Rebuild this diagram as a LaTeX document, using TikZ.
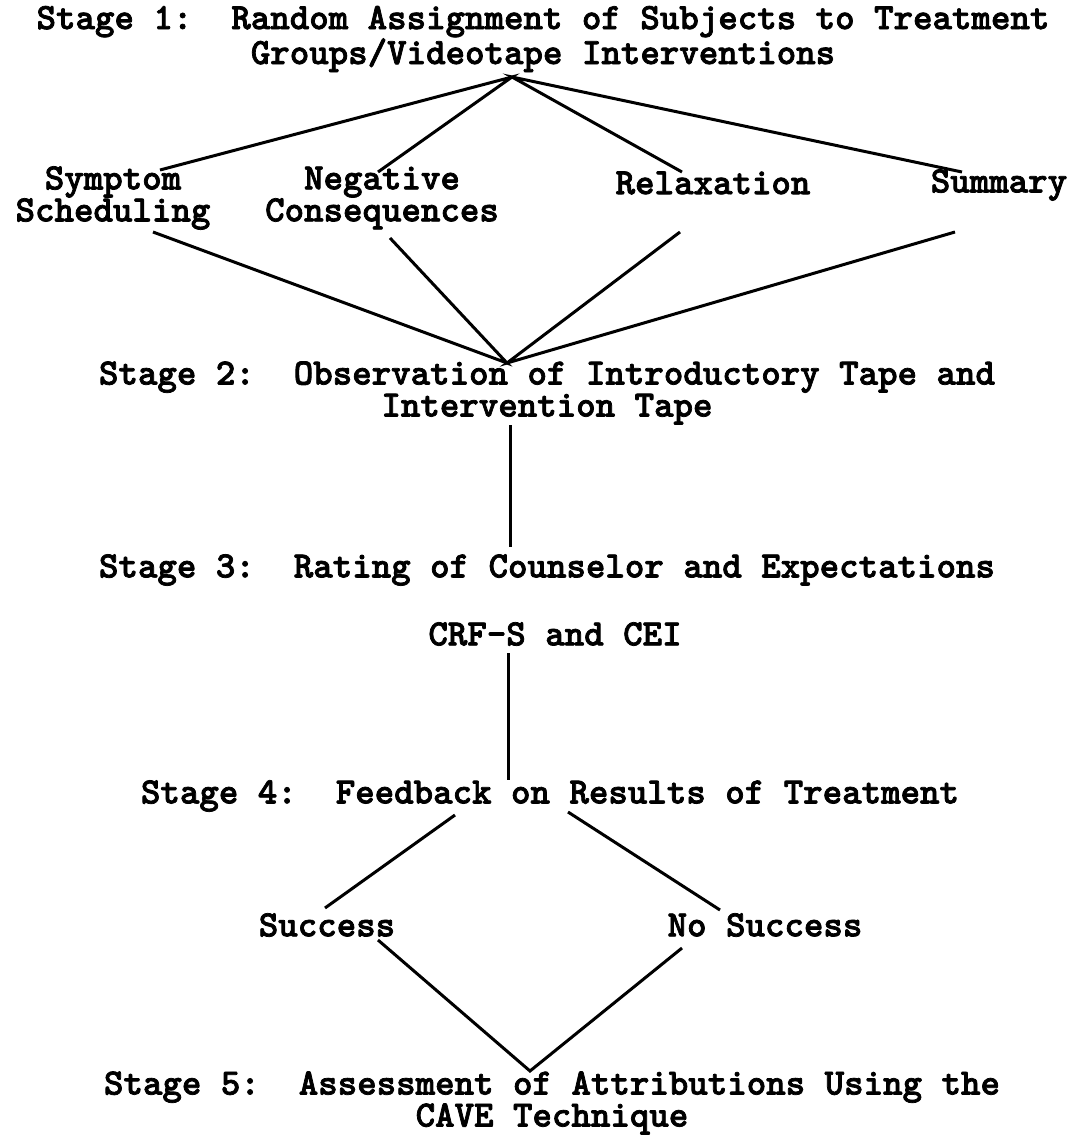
\documentclass[tikz,border=0pt]{standalone}
\usepackage{fontspec}
\newfontfamily\typew{lmmonolt10-bold.otf}[FakeBold=2]
\begin{document}
\begin{tikzpicture}[x=1pt,y=-1pt,
    lbl/.style={font=\typew\fontsize{37.1}{32}\selectfont\frenchspacing,
      align=center, inner sep=0pt},
    ln/.style={line width=3pt}]
  \useasboundingbox[fill=white] (0,0) rectangle (1075,1138);
  % stages and groups
  \node [lbl] (stage1) at (543,39) {Stage 1:\ \ Random Assignment of Subjects to Treatment\\Groups/Videotape Interventions};
  \node [lbl] (symp) at (113,198) {Symptom\\Scheduling};
  \node [lbl] (negc) at (382,198) {Negative\\Consequences};
  \node [lbl] (relax) at (713,183) {Relaxation};
  \node [lbl] (summ) at (999,185) {Summary};
  \node [lbl] (stage2) at (547,393) {Stage 2:\ \ Observation of Introductory Tape and\\Intervention Tape};
  \node [lbl] (stage3) at (547,570) {Stage 3:\ \ Rating of Counselor and Expectations};
  \node [lbl] (crf) at (555,634) {CRF-S and CEI};
  \node [lbl] (stage4) at (550,796) {Stage 4:\ \ Feedback on Results of Treatment};
  \node [lbl] (succ) at (327,925) {Success};
  \node [lbl] (nosucc) at (765,925) {No Success};
  \node [lbl] (stage5) at (552,1103) {Stage 5:\ \ Assessment of Attributions Using the\\CAVE Technique};
  % end points of the lines
  \coordinate (top1) at (512,77);
  \coordinate (symp-t) at (160,170);
  \coordinate (negc-t) at (378,172);
  \coordinate (relax-t) at (682,172);
  \coordinate (summ-t) at (962,172);
  \coordinate (symp-b) at (153,232);
  \coordinate (negc-b) at (390,238);
  \coordinate (relax-b) at (680,232);
  \coordinate (summ-b) at (955,232);
  \coordinate (top2) at (507,363);
  \coordinate (stage2-b) at (510,425);
  \coordinate (stage3-t) at (510,547);
  \coordinate (crf-b) at (508,653);
  \coordinate (stage4-t) at (508,780);
  \coordinate (stage4-l) at (455,815);
  \coordinate (stage4-r) at (568,812);
  \coordinate (succ-t) at (325,908);
  \coordinate (nosucc-t) at (720,910);
  \coordinate (succ-b) at (378,940);
  \coordinate (nosucc-b) at (682,948);
  \coordinate (top5) at (530,1071);
  % lines
  \draw [ln] (symp-t) -- (top1) -- (negc-t);
  \draw [ln] (relax-t) -- (top1) -- (summ-t);
  \draw [ln] (symp-b) -- (top2) -- (negc-b);
  \draw [ln] (relax-b) -- (top2) -- (summ-b);
  \draw [ln] (stage2-b) -- (stage3-t);
  \draw [ln] (crf-b) -- (stage4-t);
  \draw [ln] (stage4-l) -- (succ-t);
  \draw [ln] (stage4-r) -- (nosucc-t);
  \draw [ln] (succ-b) -- (top5) -- (nosucc-b);
\end{tikzpicture}
\end{document}
